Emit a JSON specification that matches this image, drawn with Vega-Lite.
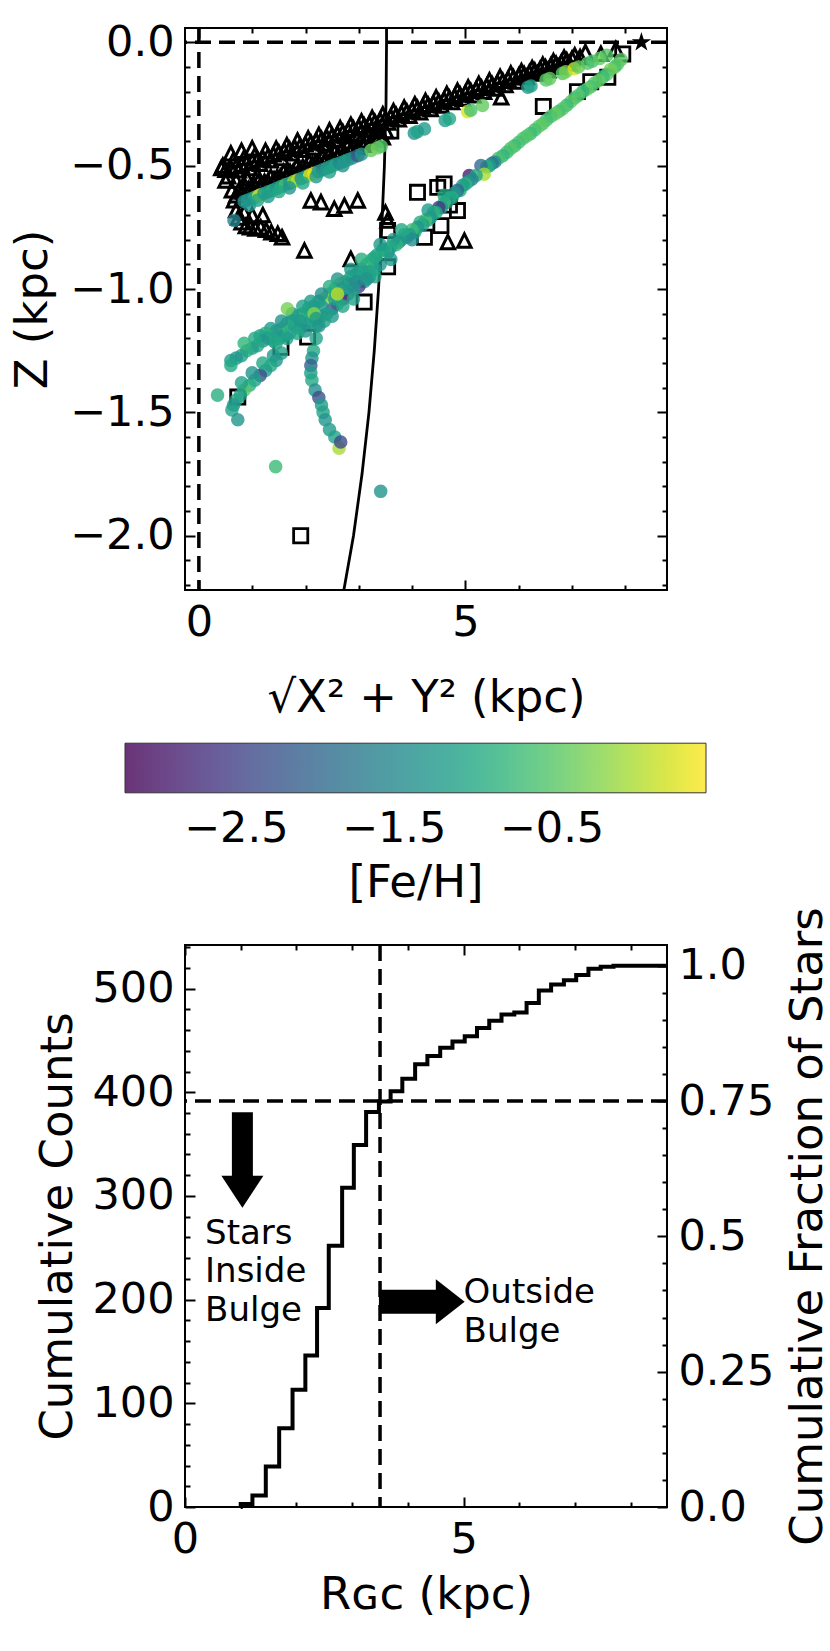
{
"$schema": "https://vega.github.io/schema/vega-lite/v6.json",
"background": "white",
"padding": {"left": 9, "top": 20, "right": 0, "bottom": 0},
"config": {
  "view": {"stroke": "black", "strokeWidth": 2},
  "font": "DejaVu Sans",
  "axis": {"labelFont": "DejaVu Sans", "labelFontSize": 43, "labelColor": "black", "titleFont": "DejaVu Sans", "titleFontSize": 45, "titleFontWeight": "normal", "titleColor": "black", "tickColor": "black", "tickWidth": 2, "domain": false, "grid": false, "labelPadding": 21, "labelFlush": false, "labelOverlap": false},
  "legend": {"labelFont": "DejaVu Sans", "titleFont": "DejaVu Sans"}
},
"resolve": {"scale": {"color": "independent"}},
"spacing": 355,
"bounds": "flush",
"vconcat": [
{
  "width": 482, "height": 562,
  "layer": [
    {"data": {"values": [{}]}, "mark": {"type": "rule", "color": "black", "strokeWidth": 3.5, "strokeDash": [16, 8]},
     "encoding": {"y": {"datum": 0, "type": "quantitative", "scale": {"domain": [-2.22, 0.058], "nice": false, "zero": false}, "axis": null}}},
    {"data": {"values": [{}]}, "mark": {"type": "rule", "color": "black", "strokeWidth": 3.5, "strokeDash": [16, 8]},
     "encoding": {"x": {"datum": 0, "type": "quantitative", "scale": {"domain": [-0.26, 8.78], "nice": false, "zero": false}, "axis": null}}},
    {"data": {"values": [
      {"x": 3.52, "z": 0.058}, {"x": 3.52, "z": 0}, {"x": 3.51, "z": -0.25}, {"x": 3.48, "z": -0.5}, {"x": 3.43, "z": -0.75},
      {"x": 3.37, "z": -1.0}, {"x": 3.29, "z": -1.25}, {"x": 3.19, "z": -1.5}, {"x": 3.06, "z": -1.75}, {"x": 2.9, "z": -2.0}, {"x": 2.72, "z": -2.22}]},
     "mark": {"type": "line", "color": "black", "strokeWidth": 2.8},
     "encoding": {
       "x": {"field": "x", "type": "quantitative", "scale": {"domain": [-0.26, 8.78], "nice": false, "zero": false}, "axis": null},
       "y": {"field": "z", "type": "quantitative", "scale": {"domain": [-2.22, 0.058], "nice": false, "zero": false}, "axis": null},
       "order": {"field": "z", "sort": "descending"}}},
    {"data": {"values": [
      {"x": 4.10, "z": -0.608}, {"x": 4.48, "z": -0.588}, {"x": 4.6, "z": -0.574}, {"x": 4.85, "z": -0.682}, {"x": 4.54, "z": -0.743},
      {"x": 6.46, "z": -0.26}, {"x": 7.95, "z": -0.047}, {"x": 7.67, "z": -0.142}, {"x": 7.1, "z": -0.2}, {"x": 3.54, "z": -0.763},
      {"x": 4.23, "z": -0.79}, {"x": 2.04, "z": -1.195}, {"x": 3.1, "z": -1.053}, {"x": 3.54, "z": -0.91}, {"x": 0.73, "z": -1.438},
      {"x": 1.54, "z": -1.236}, {"x": 1.91, "z": -2.0}, {"x": 3.6, "z": -0.36}, {"x": 4.7, "z": -0.66}, {"x": 7.35, "z": -0.16}]},
     "mark": {"type": "point", "shape": "square", "filled": false, "color": "black", "strokeWidth": 2.8, "size": 200, "opacity": 1},
     "encoding": {
       "x": {"field": "x", "type": "quantitative", "scale": {"domain": [-0.26, 8.78], "nice": false, "zero": false}, "axis": null},
       "y": {"field": "z", "type": "quantitative", "scale": {"domain": [-2.22, 0.058], "nice": false, "zero": false}, "axis": null}}},
    {"data": {"values": [
      {"x":0.45,"z":-0.50},{"x":0.55,"z":-0.543},{"x":0.65,"z":-0.476},{"x":0.75,"z":-0.519},{"x":0.85,"z":-0.467},{"x":0.95,"z":-0.51},
      {"x":1.05,"z":-0.458},{"x":1.15,"z":-0.492},{"x":1.25,"z":-0.44},{"x":1.35,"z":-0.478},{"x":1.45,"z":-0.431},{"x":1.55,"z":-0.469},
      {"x":1.65,"z":-0.417},{"x":1.75,"z":-0.45},{"x":1.85,"z":-0.398},{"x":1.95,"z":-0.436},{"x":2.05,"z":-0.389},{"x":2.15,"z":-0.427},
      {"x":2.25,"z":-0.375},{"x":2.35,"z":-0.409},{"x":2.45,"z":-0.357},{"x":2.55,"z":-0.395},{"x":2.65,"z":-0.348},{"x":2.75,"z":-0.381},
      {"x":2.85,"z":-0.334},{"x":2.95,"z":-0.372},{"x":3.05,"z":-0.32},{"x":3.15,"z":-0.353},{"x":3.25,"z":-0.306},{"x":3.35,"z":-0.339},
      {"x":3.45,"z":-0.292},{"x":3.55,"z":-0.325},{"x":3.65,"z":-0.279},{"x":3.75,"z":-0.312},{"x":3.85,"z":-0.265},{"x":3.95,"z":-0.298},
      {"x":4.05,"z":-0.251},{"x":4.15,"z":-0.284},{"x":4.25,"z":-0.237},{"x":4.35,"z":-0.27},{"x":4.45,"z":-0.223},{"x":4.55,"z":-0.256},
      {"x":4.65,"z":-0.209},{"x":4.75,"z":-0.242},{"x":4.85,"z":-0.196},{"x":4.95,"z":-0.229},{"x":5.05,"z":-0.182},{"x":5.15,"z":-0.215},
      {"x":5.25,"z":-0.168},{"x":5.35,"z":-0.201},{"x":5.45,"z":-0.154},{"x":5.55,"z":-0.187},{"x":5.65,"z":-0.14},{"x":5.75,"z":-0.173},
      {"x":5.85,"z":-0.126},{"x":5.95,"z":-0.159},{"x":6.05,"z":-0.117},{"x":6.15,"z":-0.141},{"x":6.25,"z":-0.104},{"x":6.35,"z":-0.127},
      {"x":6.45,"z":-0.09},{"x":6.55,"z":-0.113},{"x":6.65,"z":-0.076},{"x":6.75,"z":-0.099},{"x":6.85,"z":-0.062},{"x":6.95,"z":-0.085},
      {"x":7.05,"z":-0.053},
      {"x":0.5,"z":-0.517},{"x":0.6,"z":-0.51},{"x":0.7,"z":-0.503},{"x":0.8,"z":-0.496},{"x":0.9,"z":-0.489},{"x":1.0,"z":-0.482},
      {"x":1.1,"z":-0.475},{"x":1.2,"z":-0.468},{"x":1.3,"z":-0.461},{"x":1.4,"z":-0.454},{"x":1.5,"z":-0.447},{"x":1.6,"z":-0.44},
      {"x":1.7,"z":-0.433},{"x":1.8,"z":-0.427},{"x":1.9,"z":-0.42},{"x":2.0,"z":-0.413},{"x":2.1,"z":-0.406},{"x":2.2,"z":-0.399},
      {"x":2.3,"z":-0.392},{"x":2.4,"z":-0.385},{"x":2.5,"z":-0.378},{"x":2.6,"z":-0.371},{"x":2.7,"z":-0.364},{"x":2.8,"z":-0.357},
      {"x":2.9,"z":-0.35},{"x":3.0,"z":-0.344},{"x":3.1,"z":-0.337},{"x":3.2,"z":-0.33},{"x":3.3,"z":-0.323},{"x":3.4,"z":-0.316},
      {"x":3.5,"z":-0.309},{"x":3.6,"z":-0.302},{"x":3.7,"z":-0.295},{"x":3.8,"z":-0.288},{"x":3.9,"z":-0.281},{"x":4.0,"z":-0.274},
      {"x":4.1,"z":-0.267},{"x":4.2,"z":-0.26},{"x":4.3,"z":-0.253},{"x":4.4,"z":-0.246},{"x":4.5,"z":-0.24},{"x":4.6,"z":-0.233},
      {"x":4.7,"z":-0.226},{"x":4.8,"z":-0.219},{"x":4.9,"z":-0.212},{"x":5.0,"z":-0.205},{"x":5.1,"z":-0.198},{"x":5.2,"z":-0.191},
      {"x":5.3,"z":-0.184},{"x":5.4,"z":-0.177},{"x":5.5,"z":-0.17},{"x":5.6,"z":-0.163},{"x":5.7,"z":-0.156},{"x":5.8,"z":-0.149},
      {"x":5.9,"z":-0.142},{"x":6.0,"z":-0.135},{"x":6.1,"z":-0.129},{"x":6.2,"z":-0.122},{"x":6.3,"z":-0.115},{"x":6.4,"z":-0.108},
      {"x":6.5,"z":-0.101},{"x":6.6,"z":-0.094},{"x":6.7,"z":-0.087},{"x":6.8,"z":-0.08},{"x":6.9,"z":-0.073},{"x":7.0,"z":-0.066},
      {"x":0.5,"z":-0.56},{"x":0.6,"z":-0.45},{"x":0.7,"z":-0.56},{"x":0.8,"z":-0.44},{"x":0.9,"z":-0.55},{"x":1.0,"z":-0.43},{"x":1.1,"z":-0.54},{"x":0.42,"z":-0.51},
      {"x":0.75,"z":-0.60},{"x":0.87,"z":-0.585},{"x":0.99,"z":-0.585},{"x":1.11,"z":-0.565},{"x":1.23,"z":-0.565},{"x":1.35,"z":-0.545},
      {"x":1.47,"z":-0.545},{"x":1.59,"z":-0.525},{"x":1.71,"z":-0.525},{"x":1.83,"z":-0.505},{"x":1.95,"z":-0.505},{"x":2.07,"z":-0.485},
      {"x":2.19,"z":-0.485},{"x":2.31,"z":-0.465},{"x":2.43,"z":-0.46},{"x":2.55,"z":-0.445},{"x":2.67,"z":-0.44},{"x":2.79,"z":-0.42},
      {"x":2.91,"z":-0.42},{"x":3.03,"z":-0.40},{"x":3.15,"z":-0.40},{"x":3.27,"z":-0.38},{"x":3.39,"z":-0.38},{"x":3.51,"z":-0.36},
      {"x":0.81,"z":-0.605},{"x":0.93,"z":-0.595},{"x":1.05,"z":-0.585},{"x":1.17,"z":-0.575},{"x":1.29,"z":-0.565},{"x":1.41,"z":-0.555},
      {"x":1.53,"z":-0.545},{"x":1.65,"z":-0.535},{"x":1.77,"z":-0.525},{"x":1.89,"z":-0.515},{"x":2.01,"z":-0.505},{"x":2.13,"z":-0.495},
      {"x":2.25,"z":-0.485},{"x":2.37,"z":-0.475},{"x":2.49,"z":-0.465},{"x":2.61,"z":-0.455},{"x":2.73,"z":-0.445},{"x":2.85,"z":-0.435},
      {"x":2.97,"z":-0.425},{"x":3.09,"z":-0.415},{"x":3.21,"z":-0.405},{"x":3.33,"z":-0.395},{"x":3.45,"z":-0.385},
      {"x":0.62,"z":-0.6},{"x":0.66,"z":-0.64},{"x":0.7,"z":-0.68},{"x":0.74,"z":-0.71},{"x":0.8,"z":-0.73},{"x":0.88,"z":-0.745},
      {"x":0.96,"z":-0.75},{"x":1.06,"z":-0.755},{"x":1.16,"z":-0.75},{"x":1.26,"z":-0.76},{"x":1.36,"z":-0.77},{"x":1.48,"z":-0.776},
      {"x":1.56,"z":-0.79},{"x":0.85,"z":-0.69},{"x":1.0,"z":-0.7},{"x":1.2,"z":-0.7},{"x":0.7,"z":-0.62},
      {"x":2.1,"z":-0.641},{"x":2.29,"z":-0.648},{"x":2.54,"z":-0.675},{"x":2.73,"z":-0.662},{"x":2.98,"z":-0.641},{"x":1.98,"z":-0.844},
      {"x":2.85,"z":-0.878},{"x":3.54,"z":-0.722},{"x":4.67,"z":-0.81},{"x":4.98,"z":-0.804},{"x":5.67,"z":-0.223},{"x":7.54,"z":-0.047},
      {"x":7.82,"z":-0.027},{"x":3.5,"z":-0.69},{"x":7.25,"z":-0.04},{"x":7.15,"z":-0.06}]},
     "mark": {"type": "point", "shape": "M0,-1L1,1L-1,1Z", "filled": false, "color": "black", "strokeWidth": 3, "size": 180, "opacity": 1},
     "encoding": {
       "x": {"field": "x", "type": "quantitative", "scale": {"domain": [-0.26, 8.78], "nice": false, "zero": false},
             "axis": {"orient": "top", "values": [0,1,2,3,4,5,6,7,8], "labels": false, "title": null,
                      "tickSize": {"condition": {"test": "datum.value % 5 === 0", "value": -10}, "value": -5}}},
       "y": {"field": "z", "type": "quantitative", "scale": {"domain": [-2.22, 0.058], "nice": false, "zero": false},
             "axis": {"orient": "right", "values": [0,-0.1,-0.2,-0.3,-0.4,-0.5,-0.6,-0.7,-0.8,-0.9,-1,-1.1,-1.2,-1.3,-1.4,-1.5,-1.6,-1.7,-1.8,-1.9,-2,-2.1,-2.2], "labels": false, "title": null,
                      "tickSize": {"condition": {"test": "abs(round(datum.value*10)) % 5 === 0", "value": -10}, "value": -5}}}}},
    {"data": {"values": [
      {"x":7.92,"z":-0.07,"f":-0.5},{"x":7.85,"z":-0.09,"f":-0.4},{"x":7.8,"z":-0.1,"f":-0.6},{"x":7.72,"z":-0.11,"f":-0.3},{"x":7.65,"z":-0.13,"f":-0.5},
      {"x":7.58,"z":-0.14,"f":-0.7},{"x":7.5,"z":-0.155,"f":-0.4},{"x":7.42,"z":-0.165,"f":-0.5},{"x":7.35,"z":-0.18,"f":-0.6},{"x":7.28,"z":-0.19,"f":-0.4},
      {"x":7.2,"z":-0.2,"f":-0.8},{"x":7.12,"z":-0.215,"f":-0.5},{"x":7.05,"z":-0.225,"f":-0.6},{"x":6.98,"z":-0.24,"f":-0.45},{"x":6.9,"z":-0.255,"f":-0.7},
      {"x":6.82,"z":-0.27,"f":-0.5},{"x":6.75,"z":-0.28,"f":-0.6},{"x":6.68,"z":-0.29,"f":-0.4},{"x":6.6,"z":-0.3,"f":-0.55},{"x":6.52,"z":-0.315,"f":-0.65},
      {"x":6.45,"z":-0.33,"f":-0.5},{"x":6.38,"z":-0.34,"f":-0.45},{"x":6.3,"z":-0.355,"f":-0.6},{"x":6.22,"z":-0.37,"f":-0.7},{"x":6.15,"z":-0.38,"f":-0.5},
      {"x":6.08,"z":-0.39,"f":-0.55},{"x":6.0,"z":-0.405,"f":-0.6},{"x":5.92,"z":-0.42,"f":-0.7},{"x":5.85,"z":-0.43,"f":-0.5},{"x":5.78,"z":-0.445,"f":-0.65},
      {"x":5.7,"z":-0.46,"f":-0.8},{"x":5.62,"z":-0.47,"f":-0.6},{"x":5.55,"z":-0.485,"f":-1.4},{"x":5.5,"z":-0.49,"f":-1.8},{"x":5.45,"z":-0.5,"f":-1.2},
      {"x":5.4,"z":-0.505,"f":-0.9},{"x":5.29,"z":-0.5,"f":-1.9},{"x":5.35,"z":-0.535,"f":0.0},{"x":5.07,"z":-0.54,"f":-2.9},{"x":5.2,"z":-0.54,"f":-1.0},
      {"x":5.12,"z":-0.555,"f":-1.6},{"x":5.05,"z":-0.565,"f":-1.3},{"x":5.0,"z":-0.575,"f":-0.8},
      {"x":4.95,"z":-0.58,"f":-1.2},{"x":4.9,"z":-0.6,"f":-1.0},{"x":4.85,"z":-0.6,"f":-2.0},{"x":4.8,"z":-0.61,"f":-1.3},{"x":4.75,"z":-0.63,"f":-0.9},
      {"x":4.7,"z":-0.63,"f":-1.1},{"x":4.65,"z":-0.65,"f":-1.4},{"x":4.6,"z":-0.65,"f":-0.7},{"x":4.55,"z":-0.67,"f":-1.2},{"x":4.5,"z":-0.67,"f":-2.6},
      {"x":4.45,"z":-0.69,"f":-1.0},{"x":4.4,"z":-0.69,"f":-0.8},{"x":4.35,"z":-0.71,"f":-1.3},{"x":4.3,"z":-0.72,"f":-1.1},{"x":4.25,"z":-0.72,"f":-0.6},
      {"x":4.2,"z":-0.74,"f":-1.2},{"x":4.15,"z":-0.73,"f":-0.9},{"x":4.1,"z":-0.75,"f":-1.3},{"x":4.05,"z":-0.77,"f":-1.0},{"x":4.0,"z":-0.76,"f":-0.7},
      {"x":3.95,"z":-0.78,"f":-1.2},{"x":3.9,"z":-0.79,"f":-1.5},{"x":3.85,"z":-0.78,"f":-0.9},{"x":3.8,"z":-0.8,"f":-1.1},{"x":3.75,"z":-0.81,"f":-1.3},
      {"x":3.7,"z":-0.82,"f":-0.8},{"x":3.65,"z":-0.8,"f":-1.2},{"x":3.6,"z":-0.83,"f":-1.0},{"x":3.55,"z":-0.85,"f":-1.4},{"x":3.5,"z":-0.84,"f":-0.9},
      {"x":4.6,"z":-0.62,"f":-1.0},{"x":4.3,"z":-0.68,"f":-1.2},{"x":4.0,"z":-0.8,"f":-1.4},{"x":3.8,"z":-0.76,"f":-1.0},{"x":3.6,"z":-0.88,"f":-1.2},
      {"x":3.45,"z":-0.84,"f":-1.1},{"x":3.4,"z":-0.9,"f":-1.3},{"x":3.35,"z":-0.86,"f":-0.9},{"x":3.3,"z":-0.92,"f":-1.2},{"x":3.25,"z":-0.88,"f":-1.0},
      {"x":3.2,"z":-0.95,"f":-1.4},{"x":3.15,"z":-0.9,"f":-0.8},{"x":3.1,"z":-0.97,"f":-1.1},{"x":3.05,"z":-0.92,"f":-1.3},{"x":3.0,"z":-0.99,"f":-2.5},
      {"x":2.95,"z":-0.94,"f":-1.0},{"x":2.9,"z":-1.0,"f":-1.2},{"x":2.85,"z":-0.95,"f":-0.9},{"x":2.8,"z":-1.02,"f":-1.5},{"x":2.75,"z":-0.97,"f":-1.1},
      {"x":2.7,"z":-1.04,"f":-2.8},{"x":2.65,"z":-0.98,"f":-0.3},{"x":2.6,"z":-1.06,"f":-1.2},{"x":2.55,"z":-1.0,"f":-1.0},{"x":2.5,"z":-1.08,"f":-2.2},
      {"x":2.45,"z":-1.02,"f":-1.3},{"x":2.4,"z":-1.1,"f":-1.1},{"x":2.35,"z":-1.04,"f":-0.2},{"x":2.3,"z":-1.11,"f":-1.4},{"x":2.25,"z":-1.05,"f":-1.0},
      {"x":2.2,"z":-1.12,"f":-1.2},{"x":2.15,"z":-1.07,"f":-1.3},{"x":2.1,"z":-1.13,"f":-0.9},{"x":2.05,"z":-1.08,"f":-1.1},{"x":2.0,"z":-1.14,"f":-1.2},
      {"x":1.95,"z":-1.1,"f":-1.0},{"x":1.9,"z":-1.16,"f":-1.4},{"x":1.85,"z":-1.11,"f":-0.9},{"x":1.8,"z":-1.15,"f":-1.2},{"x":1.75,"z":-1.13,"f":-1.1},
      {"x":1.7,"z":-1.18,"f":-1.3},{"x":1.65,"z":-1.14,"f":-1.0},{"x":1.6,"z":-1.19,"f":-1.2},{"x":1.55,"z":-1.16,"f":-0.8},{"x":1.5,"z":-1.2,"f":-1.1},
      {"x":1.45,"z":-1.17,"f":-1.3},{"x":1.4,"z":-1.21,"f":-1.0},
      {"x":3.3,"z":-0.87,"f":-1.0},{"x":3.0,"z":-0.93,"f":-1.1},{"x":2.8,"z":-0.98,"f":-1.3},{"x":2.55,"z":-1.04,"f":-1.1},{"x":2.3,"z":-1.07,"f":-1.2},
      {"x":2.1,"z":-1.1,"f":-1.0},{"x":1.9,"z":-1.13,"f":-1.2},{"x":2.7,"z":-1.0,"f":-1.2},{"x":2.95,"z":-0.97,"f":-1.4},{"x":3.2,"z":-0.93,"f":-1.1},
      {"x":3.4,"z":-0.82,"f":-1.2},{"x":3.3,"z":-0.95,"f":-1.0},{"x":3.15,"z":-0.96,"f":-1.3},{"x":3.05,"z":-0.88,"f":-0.9},{"x":2.9,"z":-1.04,"f":-1.1},
      {"x":2.85,"z":-0.92,"f":-1.2},{"x":2.7,"z":-1.07,"f":-1.0},{"x":2.6,"z":-0.96,"f":-1.3},{"x":2.5,"z":-1.11,"f":-1.2},{"x":2.45,"z":-0.99,"f":-0.9},
      {"x":2.35,"z":-1.13,"f":-1.1},{"x":2.3,"z":-1.02,"f":-1.4},{"x":2.2,"z":-1.15,"f":-1.0},{"x":2.1,"z":-1.05,"f":-1.2},{"x":2.0,"z":-1.17,"f":-1.3},
      {"x":1.95,"z":-1.07,"f":-1.1},{"x":1.85,"z":-1.18,"f":-1.0},{"x":1.75,"z":-1.1,"f":-1.2},{"x":1.65,"z":-1.2,"f":-1.1},{"x":1.55,"z":-1.13,"f":-1.3},
      {"x":1.45,"z":-1.22,"f":-1.0},{"x":1.35,"z":-1.16,"f":-1.2},{"x":1.25,"z":-1.18,"f":-0.9},{"x":1.15,"z":-1.19,"f":-1.1},
      {"x":2.6,"z":-1.02,"f":0.1},{"x":2.16,"z":-1.1,"f":-0.2},{"x":1.66,"z":-1.08,"f":-0.3},
      {"x":1.3,"z":-1.2,"f":-1.1},{"x":1.2,"z":-1.21,"f":-1.3},{"x":1.1,"z":-1.23,"f":-1.0},{"x":1.0,"z":-1.24,"f":-1.2},{"x":0.9,"z":-1.25,"f":-0.9},
      {"x":0.8,"z":-1.27,"f":-1.1},{"x":0.7,"z":-1.28,"f":-1.3},{"x":0.6,"z":-1.29,"f":-1.2},{"x":0.6,"z":-1.31,"f":-1.0},{"x":1.05,"z":-1.2,"f":-1.0},
      {"x":0.85,"z":-1.22,"f":-0.8},
      {"x":1.55,"z":-1.26,"f":-1.1},{"x":1.45,"z":-1.29,"f":-1.3},{"x":1.35,"z":-1.31,"f":-1.0},{"x":1.25,"z":-1.33,"f":-1.2},{"x":1.15,"z":-1.35,"f":-2.3},
      {"x":1.05,"z":-1.37,"f":-1.1},{"x":0.95,"z":-1.39,"f":-0.9},{"x":0.85,"z":-1.41,"f":-0.5},{"x":0.78,"z":-1.43,"f":-1.2},{"x":0.7,"z":-1.45,"f":-1.0},
      {"x":0.65,"z":-1.47,"f":-1.3},{"x":0.62,"z":-1.49,"f":-1.1},{"x":0.73,"z":-1.53,"f":-1.3},{"x":0.35,"z":-1.43,"f":-0.9},
      {"x":1.4,"z":-1.27,"f":-1.2},{"x":1.2,"z":-1.3,"f":-1.0},{"x":1.0,"z":-1.34,"f":-1.3},{"x":0.8,"z":-1.38,"f":-1.1},
      {"x":2.2,"z":-1.12,"f":-1.2},{"x":2.25,"z":-1.15,"f":-1.3},{"x":2.2,"z":-1.2,"f":-1.1},{"x":2.15,"z":-1.25,"f":-1.0},{"x":2.12,"z":-1.28,"f":-1.3},
      {"x":2.1,"z":-1.31,"f":-2.1},{"x":2.1,"z":-1.34,"f":-1.2},{"x":2.12,"z":-1.37,"f":-1.0},{"x":2.18,"z":-1.41,"f":-1.4},{"x":2.25,"z":-1.44,"f":-2.3},
      {"x":2.3,"z":-1.47,"f":-1.2},{"x":2.33,"z":-1.5,"f":-1.1},{"x":2.37,"z":-1.53,"f":-1.3},{"x":2.45,"z":-1.57,"f":-1.2},{"x":2.55,"z":-1.6,"f":-1.1},
      {"x":2.63,"z":-1.645,"f":0.0},{"x":2.66,"z":-1.62,"f":-2.4},
      {"x":1.44,"z":-1.72,"f":-0.7},{"x":3.41,"z":-1.82,"f":-1.3},
      {"x":0.66,"z":-0.722,"f":-1.6},{"x":0.85,"z":-0.645,"f":-1.4},{"x":0.91,"z":-0.64,"f":-1.2},{"x":0.98,"z":-0.634,"f":-1.5},{"x":1.05,"z":-0.628,"f":-1.0},
      {"x":1.12,"z":-0.622,"f":0.2},{"x":1.16,"z":-0.618,"f":0.1},{"x":1.22,"z":-0.613,"f":-1.3},{"x":1.3,"z":-0.606,"f":-1.1},{"x":1.38,"z":-0.6,"f":-0.9},
      {"x":1.46,"z":-0.592,"f":-1.3},{"x":1.54,"z":-0.585,"f":-1.0},{"x":1.62,"z":-0.578,"f":-0.6},{"x":1.7,"z":-0.571,"f":-1.2},{"x":1.78,"z":-0.564,"f":-0.2},
      {"x":1.85,"z":-0.558,"f":0.1},{"x":1.92,"z":-0.552,"f":-1.4},{"x":2.0,"z":-0.545,"f":-1.1},{"x":2.08,"z":-0.538,"f":0.3},{"x":2.16,"z":-0.531,"f":0.35},
      {"x":2.24,"z":-0.524,"f":-1.3},{"x":2.32,"z":-0.517,"f":-1.6},{"x":2.4,"z":-0.51,"f":-1.2},{"x":2.48,"z":-0.503,"f":-1.3},{"x":2.56,"z":-0.496,"f":-1.0},
      {"x":2.64,"z":-0.489,"f":-1.5},{"x":2.72,"z":-0.483,"f":-1.2},{"x":2.8,"z":-0.476,"f":-1.1},{"x":2.88,"z":-0.469,"f":-1.4},{"x":2.98,"z":-0.46,"f":-2.2},
      {"x":3.05,"z":-0.454,"f":-1.3},{"x":3.23,"z":-0.438,"f":-0.4},{"x":3.35,"z":-0.428,"f":-0.3},{"x":3.42,"z":-0.422,"f":-0.5},{"x":4.04,"z":-0.368,"f":-1.3},
      {"x":4.1,"z":-0.362,"f":-1.1},{"x":4.23,"z":-0.351,"f":-1.2},{"x":4.62,"z":-0.317,"f":-1.2},{"x":4.7,"z":-0.31,"f":-1.0},{"x":5.04,"z":-0.281,"f":0.3},
      {"x":5.1,"z":-0.275,"f":-0.6},{"x":5.32,"z":-0.256,"f":-0.4},{"x":6.17,"z":-0.182,"f":-1.3},{"x":6.23,"z":-0.177,"f":-1.1},{"x":6.51,"z":-0.153,"f":-0.5},
      {"x":6.58,"z":-0.147,"f":-0.4},{"x":6.82,"z":-0.126,"f":-0.5},{"x":6.88,"z":-0.12,"f":-0.3},{"x":7.04,"z":-0.107,"f":0.25},{"x":7.12,"z":-0.1,"f":-0.4},
      {"x":7.29,"z":-0.085,"f":-0.5},{"x":7.38,"z":-0.077,"f":-0.6},{"x":7.52,"z":-0.065,"f":-0.4},{"x":7.65,"z":-0.053,"f":-0.5},
      {"x":0.95,"z":-0.66,"f":-1.3},{"x":1.1,"z":-0.64,"f":-1.1},{"x":1.3,"z":-0.625,"f":-1.2},{"x":1.5,"z":-0.605,"f":-1.0},{"x":1.7,"z":-0.59,"f":-1.3},
      {"x":1.95,"z":-0.57,"f":-1.0},{"x":2.2,"z":-0.545,"f":-1.2},{"x":2.45,"z":-0.525,"f":-1.1},{"x":2.7,"z":-0.5,"f":-1.3}]},
     "mark": {"type": "circle", "size": 185, "opacity": 0.8},
     "encoding": {
       "x": {"field": "x", "type": "quantitative", "scale": {"domain": [-0.26, 8.78], "nice": false, "zero": false},
             "axis": {"values": [0,1,2,3,4,5,6,7,8], "format": "d", "labelExpr": "datum.value % 5 === 0 ? datum.label : ''",
                      "tickSize": {"condition": {"test": "datum.value % 5 === 0", "value": -10}, "value": -5},
                      "title": "\u221aX\u00b2 + Y\u00b2  (kpc)", "titleY": 121.7, "titleBaseline": "alphabetic"}},
       "y": {"field": "z", "type": "quantitative", "scale": {"domain": [-2.22, 0.058], "nice": false, "zero": false},
             "axis": {"values": [0,-0.1,-0.2,-0.3,-0.4,-0.5,-0.6,-0.7,-0.8,-0.9,-1,-1.1,-1.2,-1.3,-1.4,-1.5,-1.6,-1.7,-1.8,-1.9,-2,-2.1,-2.2], "format": ".1f",
                      "labelExpr": "abs(round(datum.value*10)) % 5 === 0 ? datum.label : ''",
                      "tickSize": {"condition": {"test": "abs(round(datum.value*10)) % 5 === 0", "value": -10}, "value": -5},
                      "title": "Z (kpc)", "titleX": -139, "titleBaseline": "alphabetic"}},
       "color": {"field": "f", "type": "quantitative", "scale": {"scheme": "viridis", "domain": [-3.205, 0.476], "nice": false, "zero": false},
                 "legend": {"orient": "none", "legendX": -60, "legendY": 715.2, "direction": "horizontal", "gradientLength": 581, "gradientThickness": 49.6,
                            "gradientStrokeColor": "black", "gradientStrokeWidth": 1, "values": [-2.5, -1.5, -0.5], "format": ".1f",
                            "labelFontSize": 43, "labelColor": "black", "labelOffset": 15, "labelOverlap": false,
                            "title": "[Fe/H]", "titleOrient": "bottom", "titleAnchor": "middle", "titleFontSize": 45, "titleFontWeight": "normal", "titleColor": "black", "titlePadding": 10,
                            "padding": 0, "encode": {"gradient": {"update": {"opacity": {"value": 0.8}}}}}}}},
    {"data": {"values": [{"x": 8.3, "z": 0}]},
     "mark": {"type": "point", "shape": "M0,-1L0.225,-0.309L0.951,-0.309L0.363,0.118L0.588,0.809L0,0.382L-0.588,0.809L-0.363,0.118L-0.951,-0.309L-0.225,-0.309Z", "filled": true, "color": "black", "size": 420, "opacity": 1},
     "encoding": {
       "x": {"field": "x", "type": "quantitative", "scale": {"domain": [-0.26, 8.78], "nice": false, "zero": false}, "axis": null},
       "y": {"field": "z", "type": "quantitative", "scale": {"domain": [-2.22, 0.058], "nice": false, "zero": false}, "axis": null}}}
  ],
  "resolve": {"axis": {"x": "independent", "y": "independent"}}
},
{
  "width": 482, "height": 562,
  "layer": [
    {"data": {"values": [
      {"r":0.999,"n":0},{"r":1.0,"n":3},{"r":1.21,"n":11},{"r":1.45,"n":39},{"r":1.69,"n":76},{"r":1.93,"n":113},{"r":2.16,"n":146},
      {"r":2.37,"n":192},{"r":2.58,"n":252},{"r":2.82,"n":308},{"r":3.03,"n":349},{"r":3.25,"n":381},{"r":3.48,"n":391},{"r":3.69,"n":401},
      {"r":3.9,"n":413},{"r":4.13,"n":427},{"r":4.35,"n":435},{"r":4.58,"n":443},{"r":4.8,"n":449},{"r":5.02,"n":454},{"r":5.24,"n":462},
      {"r":5.46,"n":469},{"r":5.68,"n":475},{"r":5.91,"n":477},{"r":6.13,"n":486},{"r":6.35,"n":498},{"r":6.57,"n":504},{"r":6.8,"n":508},
      {"r":7.02,"n":513},{"r":7.24,"n":519},{"r":7.46,"n":521},{"r":7.69,"n":522},{"r":8.65,"n":522}]},
     "mark": {"type": "line", "color": "black", "strokeWidth": 4, "interpolate": "step-after", "strokeJoin": "miter"},
     "encoding": {
       "x": {"field": "r", "type": "quantitative", "scale": {"domain": [0, 8.65], "nice": false, "zero": false},
             "axis": {"values": [0,1,2,3,4,5,6,7,8], "format": "d", "labelExpr": "datum.value % 5 === 0 ? datum.label : ''",
                      "tickSize": {"condition": {"test": "datum.value % 5 === 0", "value": -10}, "value": -5},
                      "title": "R\u0262\u1d04 (kpc)", "titleY": 101.7, "titleBaseline": "alphabetic"}},
       "y": {"field": "n", "type": "quantitative", "scale": {"domain": [0, 542], "nice": false, "zero": false},
             "axis": {"values": [0,20,40,60,80,100,120,140,160,180,200,220,240,260,280,300,320,340,360,380,400,420,440,460,480,500,520,540], "format": "d",
                      "labelExpr": "datum.value % 100 === 0 ? datum.label : ''",
                      "tickSize": {"condition": {"test": "datum.value % 100 === 0", "value": -10}, "value": -5},
                      "title": "Cumulative Counts", "titleX": -114, "titleBaseline": "alphabetic"}}}},
    {"data": {"values": [{}]}, "mark": {"type": "rule", "color": "black", "strokeWidth": 3.5, "strokeDash": [16, 8]},
     "encoding": {"y": {"datum": 0.75, "type": "quantitative", "scale": {"domain": [0, 1.0383], "nice": false, "zero": false},
       "axis": {"orient": "right", "values": [0,0.05,0.1,0.15,0.2,0.25,0.3,0.35,0.4,0.45,0.5,0.55,0.6,0.65,0.7,0.75,0.8,0.85,0.9,0.95,1],
                "labelExpr": "abs(round(datum.value*100)) % 25 === 0 ? (datum.value === 0 ? '0.0' : datum.value === 1 ? '1.0' : format(datum.value, '.2~f')) : ''",
                "tickSize": {"condition": {"test": "abs(round(datum.value*100)) % 25 === 0", "value": -10}, "value": -5},
                "title": "Cumulative Fraction of Stars", "titleAngle": -90, "titleX": 154, "titleBaseline": "alphabetic"}}}},
    {"data": {"values": [{}]}, "mark": {"type": "rule", "color": "black", "strokeWidth": 3.5, "strokeDash": [16, 8]},
     "encoding": {"x": {"datum": 3.5, "type": "quantitative", "scale": {"domain": [0, 8.65], "nice": false, "zero": false},
       "axis": {"orient": "top", "values": [0,1,2,3,4,5,6,7,8], "labels": false, "title": null,
                "tickSize": {"condition": {"test": "datum.value % 5 === 0", "value": -10}, "value": -5}}}}},
    {"data": {"values": [{"r": 1.03, "n": 380.7, "n2": 312}]},
     "mark": {"type": "rule", "color": "black", "strokeWidth": 21},
     "encoding": {
       "x": {"field": "r", "type": "quantitative", "scale": {"domain": [0, 8.65], "nice": false, "zero": false}, "axis": null},
       "y": {"field": "n", "type": "quantitative", "scale": {"domain": [0, 542], "nice": false, "zero": false}, "axis": null},
       "y2": {"field": "n2"}}},
    {"data": {"values": [{"r": 3.48, "r2": 4.6, "n": 197.9}]},
     "mark": {"type": "rule", "color": "black", "strokeWidth": 24},
     "encoding": {
       "x": {"field": "r", "type": "quantitative", "scale": {"domain": [0, 8.65], "nice": false, "zero": false}, "axis": null},
       "x2": {"field": "r2"},
       "y": {"field": "n", "type": "quantitative", "scale": {"domain": [0, 542], "nice": false, "zero": false}, "axis": null}}},
    {"data": {"values": [{"r": 1.03, "n": 304.1}]},
     "mark": {"type": "point", "shape": "M-1,-0.76L1,-0.76L0,0.76Z", "filled": true, "color": "black", "size": 1764, "opacity": 1},
     "encoding": {
       "x": {"field": "r", "type": "quantitative", "scale": {"domain": [0, 8.65], "nice": false, "zero": false}, "axis": null},
       "y": {"field": "n", "type": "quantitative", "scale": {"domain": [0, 542], "nice": false, "zero": false}, "axis": null}}},
    {"data": {"values": [{"r": 4.76, "n": 197.9}]},
     "mark": {"type": "point", "shape": "M-0.64,-1L0.64,0L-0.64,1Z", "filled": true, "color": "black", "size": 2025, "opacity": 1},
     "encoding": {
       "x": {"field": "r", "type": "quantitative", "scale": {"domain": [0, 8.65], "nice": false, "zero": false}, "axis": null},
       "y": {"field": "n", "type": "quantitative", "scale": {"domain": [0, 542], "nice": false, "zero": false}, "axis": null}}},
    {"data": {"values": [{"r": 0.36, "n": 253.8, "t": ["Stars", "Inside", "Bulge"]}, {"r": 5.0, "n": 196.5, "t": ["Outside", "Bulge"]}]},
     "mark": {"type": "text", "align": "left", "baseline": "alphabetic", "font": "DejaVu Sans", "fontSize": 34, "lineHeight": 38.5, "color": "black"},
     "encoding": {
       "x": {"field": "r", "type": "quantitative", "scale": {"domain": [0, 8.65], "nice": false, "zero": false}, "axis": null},
       "y": {"field": "n", "type": "quantitative", "scale": {"domain": [0, 542], "nice": false, "zero": false}, "axis": null},
       "text": {"field": "t"}}}
  ],
  "resolve": {"scale": {"y": "independent"}, "axis": {"x": "independent", "y": "independent"}}
}
]
}
